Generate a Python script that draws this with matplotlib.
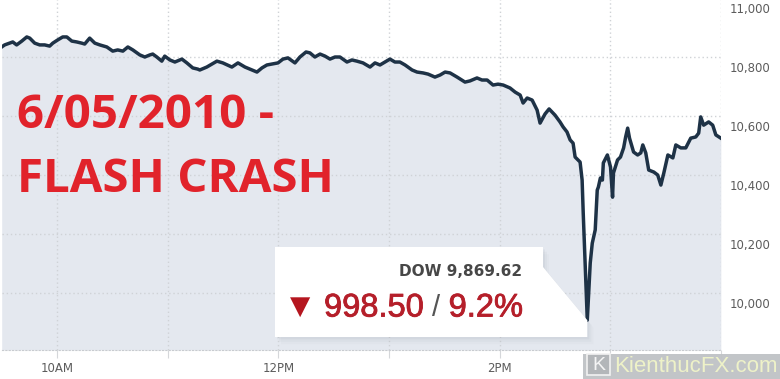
import matplotlib
matplotlib.use('Agg')
import matplotlib.pyplot as plt
import matplotlib.patheffects as pe
from matplotlib.patches import Polygon, Rectangle
from matplotlib.transforms import ScaledTranslation

# Dow Jones intraday, 6 May 2010 -- minutes after the 9:30 open, index level
minutes = [0, 1.6, 4.3, 6.0, 8.1, 10.9, 13.6, 15.2, 17.9, 20.6, 23.3, 26.0, 27.7, 30.4,
           33.1, 35.3, 38.0, 40.7, 43.4, 45.0, 47.7, 50.5, 53.2, 57.0, 60.2, 62.9, 65.7,
           68.4, 71.1, 74.9, 77.6, 80.3, 81.9, 84.1, 86.8, 88.4, 91.2, 93.9, 97.7, 100.4,
           103.6, 106.3, 107.4, 111.2, 116.7, 119.9, 124.8, 128.1, 131.9, 135.7, 138.4,
           141.1, 143.8, 146.5, 149.8, 152.5, 155.2, 159.0, 161.7, 165.0, 167.1, 169.8,
           172.6, 175.3, 178.0, 180.7, 183.4, 187.2, 189.9, 192.6, 195.9, 199.7, 202.4,
           205.1, 207.8, 210.5, 213.2, 215.9, 218.7, 222.5, 225.2, 228.5, 231.2, 234.9,
           237.7, 240.4, 243.1, 246.9, 251.2, 253.9, 257.7, 260.4, 263.2, 266.4, 269.1,
           271.9, 275.6, 278.4, 281.1, 282.7, 284.9, 287.6, 290.3, 291.9, 294.6, 296.8,
           300.0, 302.7, 304.4, 306.5, 308.2, 309.8, 310.9, 312.5, 313.6, 314.7, 315.3,
           317.5, 319.1, 320.2, 321.8, 322.9, 323.5, 324.6, 325.7, 326.2, 328.4, 330.1,
           331.2, 331.7, 333.9, 335.5, 337.2, 338.3, 339.4, 340.4, 342.6, 344.8, 346.5,
           347.6, 349.2, 350.8, 353.6, 355.7, 357.4, 359.0, 361.2, 363.9, 365.5, 368.2,
           370.9, 373.6, 376.3, 377.9, 379.0, 380.6, 383.3, 385.5, 387.2, 389.9]
dow = [10834, 10841, 10847, 10851, 10841, 10854, 10868, 10864, 10847, 10841, 10841, 10837,
       10847, 10858, 10868, 10868, 10854, 10851, 10847, 10844, 10864, 10847, 10841, 10834,
       10820, 10824, 10820, 10834, 10824, 10807, 10800, 10807, 10810, 10800, 10786, 10803,
       10790, 10783, 10793, 10780, 10763, 10759, 10756, 10766, 10786, 10780, 10766, 10780,
       10766, 10756, 10749, 10763, 10773, 10776, 10780, 10793, 10797, 10780, 10800, 10817,
       10814, 10800, 10810, 10803, 10793, 10800, 10800, 10783, 10790, 10786, 10780, 10766,
       10780, 10773, 10783, 10793, 10783, 10783, 10773, 10756, 10749, 10746, 10742, 10732,
       10739, 10749, 10746, 10732, 10715, 10719, 10729, 10722, 10722, 10705, 10708, 10705,
       10695, 10681, 10671, 10644, 10661, 10654, 10620, 10576, 10607, 10624, 10603, 10580,
       10563, 10546, 10519, 10508, 10461, 10451, 10444, 10383, 10271, 9908, 10102, 10169,
       10214, 10349, 10359, 10390, 10383, 10441, 10468, 10427, 10325, 10407, 10451, 10461,
       10492, 10529, 10559, 10525, 10478, 10468, 10475, 10502, 10475, 10417, 10410, 10400,
       10366, 10407, 10468, 10458, 10502, 10492, 10492, 10525, 10529, 10542, 10597, 10569,
       10580, 10569, 10536, 10525]

y_ticks = [10000, 10200, 10400, 10600, 10800, 11000]
x_ticks = [30, 90, 150, 210, 270, 330, 390]
x_labels = ['10AM', '', '12PM', '', '2PM', '', '']
title_lines = ['6/05/2010 -', 'FLASH CRASH']
dow_close_low = 'DOW 9,869.62'
drop_points = '998.50'
drop_pct = '9.2%'

W, H = 780, 379


def px(x, y):
    # pixel position (from top-left) -> figure fraction
    return x / W, 1 - y / H


fig = plt.figure(figsize=(W / 100, H / 100), dpi=100)
ax = fig.add_axes([1.7 / W, 29 / H, 719.3 / W, 352 / H])
ax.set_xlim(0, 390)
ax.set_ylim(9807, 11000)

ax.fill_between(minutes, dow, 9807, color='#e4e8ef', lw=0, zorder=1)
ax.plot(minutes, dow, color='#1e3246', lw=2.5, solid_joinstyle='round', zorder=3)

ax.set_xticks(x_ticks)
ax.set_xticklabels(x_labels)
ax.set_yticks(y_ticks)
ax.set_yticklabels([])
ax.grid(True, color='#cfd2d6', ls=(0, (1, 2)), lw=1)
for s in ['top', 'left', 'right']:
    ax.spines[s].set_visible(False)
ax.spines['bottom'].set_linestyle((0, (1, 2)))
ax.spines['bottom'].set_color('#c8cbcf')
ax.tick_params(axis='x', length=6, color='#d5d7da', pad=3, labelsize=8.5,
               labelcolor='#5c5c5c')
ax.tick_params(axis='y', length=0)

off = ScaledTranslation(9 / 100, -11 / 100, fig.dpi_scale_trans)
for v in y_ticks:
    ax.text(1, v, f'{v:,}', transform=ax.get_yaxis_transform() + off,
            ha='left', va='center', fontsize=8.5, color='#5c5c5c', clip_on=False)

# headline
for i, line in enumerate(title_lines):
    fig.text(*px(17, 116 + 64 * i), line, ha='left', va='center', fontsize=34.2,
             fontweight='bold', family='Open Sans', color='#e1232b')

# callout box pointing at the low
fig.canvas.draw()
tip = ax.transData.transform((minutes[dow.index(min(dow))], min(dow)))
pts = [(275, H - 247), (543, H - 247), (543, H - 267), (tip[0], tip[1]),
       (tip[0], H - 337), (275, H - 337)]
for k, a in [(12, 0.04), (8, 0.06), (4, 0.09)]:
    shadow = [(x + k * 0.5, y - k * 0.6) for x, y in pts]
    fig.patches.append(Polygon(shadow, closed=True, transform=None, color='#8a9099',
                               alpha=a, lw=0))
fig.patches.append(Polygon(pts, closed=True, transform=None, facecolor='white',
                           edgecolor='none'))

fig.text(*px(522, 271), dow_close_low, ha='right', va='center', fontsize=11,
         fontweight='bold', family='DejaVu Sans', color='#474747')
fig.text(*px(290, 307), '\u25bc', ha='left', va='center', fontsize=19,
         family='DejaVu Sans', color='#b5161f')
bold_edge = [pe.withStroke(linewidth=0.6, foreground='#b51f2a')]
fig.text(*px(324, 308), drop_points, ha='left', va='center', fontsize=23.5,
         family='Liberation Sans', color='#b51f2a', path_effects=bold_edge)
fig.text(*px(436, 308), '/', ha='center', va='center', fontsize=21,
         family='Liberation Sans', color='#555555')
fig.text(*px(523, 308), drop_pct, ha='right', va='center', fontsize=23.5,
         family='Liberation Sans', color='#b51f2a', path_effects=bold_edge)

# watermark
fig.patches.append(Rectangle(px(583, 379), 197 / W, 25 / H, transform=fig.transFigure,
                             facecolor='#bfc2c5', edgecolor='none', alpha=0.95))
fig.patches.append(Rectangle(px(587, 375), 23 / W, 21 / H, transform=fig.transFigure,
                             facecolor='#b3b6b9', edgecolor='#f2f2f2', lw=1.2))
fig.text(*px(598.5, 366), 'K', ha='center', va='center', fontsize=14, color='#f5f5f5',
         family='Liberation Sans')
fig.text(*px(778, 366), 'KienthucFX.com', ha='right', va='center', fontsize=16,
         color='#eef2c8', family='Liberation Sans')

fig.savefig('out.png', dpi=100)
